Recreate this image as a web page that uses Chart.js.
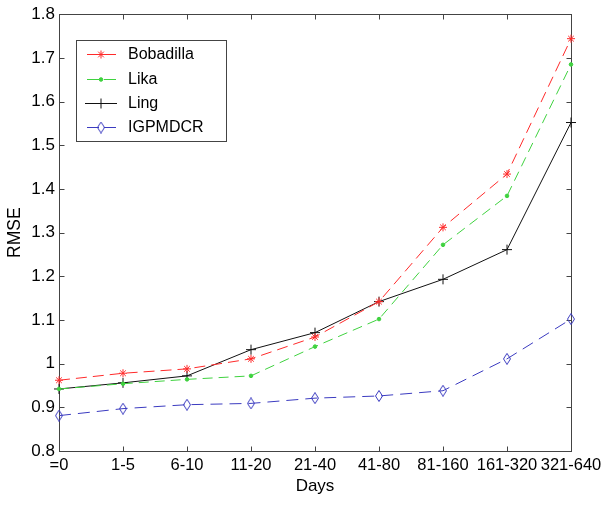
<!DOCTYPE html>
<html>
<head>
<meta charset="utf-8">
<script src="https://cdn.jsdelivr.net/npm/chart.js@4.4.0/dist/chart.umd.min.js"></script>
<style>
  html, body { margin: 0; padding: 0; background: #fff; }
</style>
</head>
<body>
<canvas id="rmseChart" width="608" height="505"></canvas>
<script>
const days = ["=0", "1-5", "6-10", "11-20", "21-40", "41-80", "81-160", "161-320", "321-640"];
const bobadilla = [0.962, 0.978, 0.988, 1.011, 1.061, 1.142, 1.312, 1.434, 1.744];
const lika = [0.942, 0.954, 0.964, 0.972, 1.039, 1.102, 1.272, 1.384, 1.685];
const ling = [0.942, 0.956, 0.972, 1.032, 1.071, 1.142, 1.193, 1.261, 1.552];
const igpmdcr = [0.881, 0.897, 0.906, 0.909, 0.921, 0.926, 0.938, 1.011, 1.102];
const rmseTicks = [0.8, 0.9, 1.0, 1.1, 1.2, 1.3, 1.4, 1.5, 1.6, 1.7, 1.8];

Chart.defaults.font.family = '"Liberation Sans", Arial, sans-serif';

// tall open diamond like the matlab 'd' marker
function diamond(color) {
  const c = document.createElement("canvas");
  c.width = 8;
  c.height = 12;
  const g = c.getContext("2d");
  g.strokeStyle = color;
  g.lineWidth = 1;
  g.beginPath();
  g.moveTo(4, 0.5);
  g.lineTo(7.5, 6);
  g.lineTo(4, 11.5);
  g.lineTo(0.5, 6);
  g.closePath();
  g.stroke();
  return c;
}

const red = "#ff2a2a";
const green = "#3fd23f";
const blue = "#3b3bc0";

const series = [
  { label: "Bobadilla", data: bobadilla, color: red, dash: [11, 6], style: "star", radius: 4 },
  { label: "Lika", data: lika, color: green, dash: [10, 6], style: "circle", radius: 1.8 },
  { label: "Ling", data: ling, color: "#111", dash: [], style: "cross", radius: 5 },
  { label: "IGPMDCR", data: igpmdcr, color: blue, dash: [12, 7], style: diamond(blue), radius: 5 },
];

// box round the plot with inward ticks, and the boxed legend
const frame = {
  id: "frame",
  beforeDatasetsDraw(chart) {
    const { ctx, chartArea: a, scales: { x, y } } = chart;
    const l = Math.round(a.left) + 0.5, r = Math.round(a.right) + 0.5;
    const t = Math.round(a.top) + 0.5, b = Math.round(a.bottom) + 0.5;
    ctx.save();
    ctx.strokeStyle = "#444";
    ctx.lineWidth = 1;
    ctx.strokeRect(l, t, r - l, b - t);
    ctx.beginPath();
    rmseTicks.forEach(v => {
      const py = Math.round(y.getPixelForValue(v)) + 0.5;
      ctx.moveTo(l, py); ctx.lineTo(l + 5, py);
      ctx.moveTo(r, py); ctx.lineTo(r - 5, py);
    });
    days.forEach((d, i) => {
      const px = Math.round(x.getPixelForValue(i)) + 0.5;
      ctx.moveTo(px, b); ctx.lineTo(px, b - 5);
      ctx.moveTo(px, t); ctx.lineTo(px, t + 5);
    });
    ctx.stroke();
    ctx.restore();
  },
  afterDatasetsDraw(chart) {
    const ctx = chart.ctx;
    const bx = 76.5, by = 40.5, bw = 150, bh = 101;
    ctx.save();
    ctx.fillStyle = "#fff";
    ctx.fillRect(bx, by, bw, bh);
    ctx.strokeStyle = "#444";
    ctx.lineWidth = 1;
    ctx.strokeRect(bx, by, bw, bh);
    ctx.font = '16px "Liberation Sans", Arial, sans-serif';
    ctx.textBaseline = "middle";
    ctx.textAlign = "left";
    const rows = [54, 79, 103, 127];
    series.forEach((s, i) => {
      const yy = rows[i] + 0.5;
      ctx.strokeStyle = s.color;
      ctx.fillStyle = s.color;
      ctx.setLineDash(s.dash.length ? [12, 5] : []);
      ctx.lineDashOffset = -2;
      ctx.beginPath();
      ctx.moveTo(85, yy);
      ctx.lineTo(117, yy);
      ctx.stroke();
      ctx.setLineDash([]);
      Chart.helpers.drawPoint(ctx, { pointStyle: s.style, radius: s.radius, borderWidth: 1, rotation: 0 }, 101, yy);
      ctx.fillStyle = "#000";
      ctx.fillText(s.label, 128, rows[i] + 1);
    });
    ctx.restore();
  },
};

new Chart(document.getElementById("rmseChart").getContext("2d"), {
  type: "line",
  data: {
    labels: days,
    datasets: series.map(s => ({
      label: s.label,
      data: s.data,
      borderColor: s.color,
      backgroundColor: s.color,
      borderWidth: 1,
      borderDash: s.dash,
      pointStyle: s.style,
      pointRadius: s.radius,
      pointBorderWidth: 1,
      pointBorderColor: s.color,
      pointBackgroundColor: s.color,
      tension: 0,
      fill: false,
      clip: false,
    })),
  },
  options: {
    responsive: false,
    animation: false,
    layout: { padding: { top: 14, right: 37, left: 0, bottom: 0 } },
    plugins: { legend: { display: false }, tooltip: { enabled: false } },
    scales: {
      x: {
        offset: false,
        grid: { display: false, drawTicks: false },
        border: { display: false },
        ticks: { color: "#000", font: { size: 16.5 }, padding: 5, maxRotation: 0, autoSkip: false },
        title: { display: true, text: "Days", color: "#000", font: { size: 17 }, padding: { top: 0, bottom: 8 } },
        afterFit(s) { s.height = 54; },
      },
      y: {
        min: 0.8,
        max: 1.8,
        grid: { display: false, drawTicks: false },
        border: { display: false },
        afterBuildTicks(s) { s.ticks = rmseTicks.map(v => ({ value: v })); },
        ticks: { color: "#000", font: { size: 17 }, padding: 4, callback: v => String(+v.toFixed(1)) },
        title: { display: true, text: "RMSE", color: "#000", font: { size: 17.5 }, padding: { top: 5, bottom: 0 } },
        afterFit(s) { s.width = 59; },
      },
    },
  },
  plugins: [frame],
});
</script>
</body>
</html>
